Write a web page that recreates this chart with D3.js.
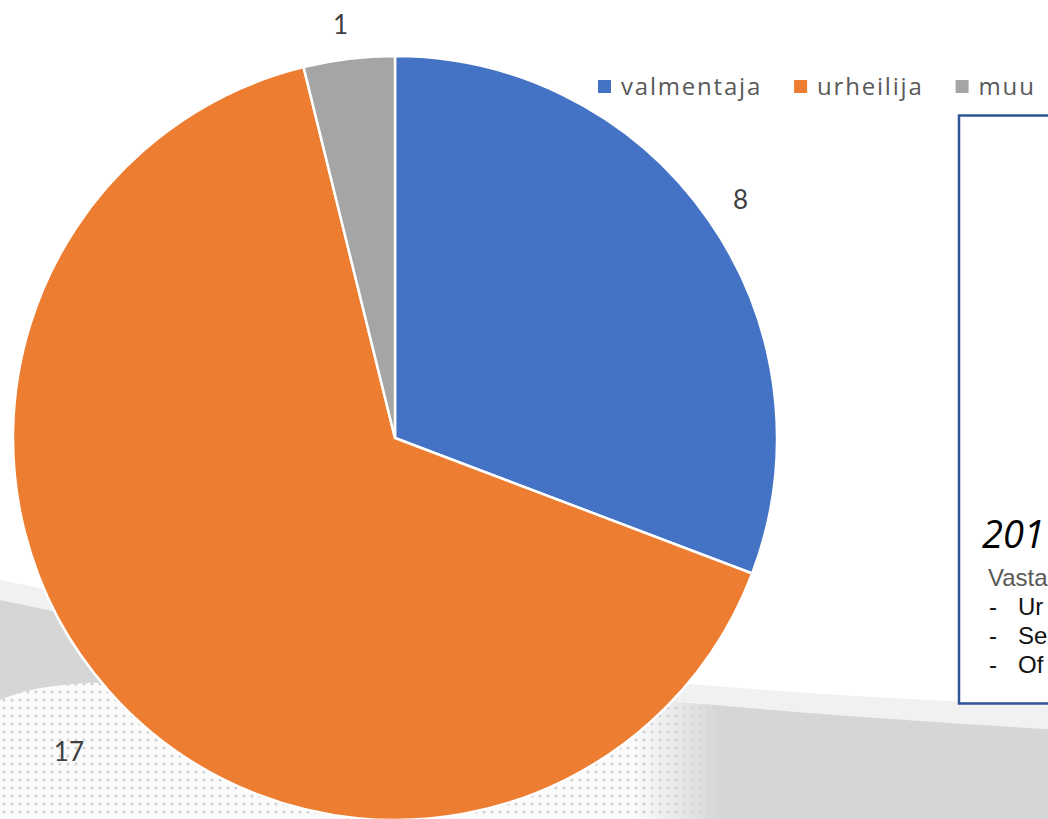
<!DOCTYPE html>
<html><head><meta charset="utf-8">
<script src="https://cdn.jsdelivr.net/npm/d3@7"></script>
<style>html,body{margin:0;padding:0;background:#fff;overflow:hidden}svg{display:block}</style>
</head><body>
<svg id="c" width="1048" height="819"></svg>
<script>
const categories = ["valmentaja", "urheilija", "muu"];
const values = [8, 17, 1];
const colors = ["#4472C4", "#ED7D31", "#A5A5A5"];
const boxLines = ["Vasta", "Ur", "Se", "Of"];
const boxTitle = "201";

const W = 1048, H = 819;
const svg = d3.select("#c");
const defs = svg.append("defs");

// ---- background decoration ----
const curve = d3.line().curve(d3.curveBasis);
function band(pts){ return curve(pts) + `L${W+10},${H+10}L-10,${H+10}Z`; }
svg.append("path").attr("d", band([[-10,578],[300,640],[700,690],[1060,706]])).attr("fill","#f1f1f1");
svg.append("path").attr("d", band([[-10,598],[300,662],[700,707],[1060,730]])).attr("fill","#d6d6d6");

const pat = defs.append("pattern").attr("id","dots").attr("patternUnits","userSpaceOnUse")
  .attr("width",8).attr("height",8);
pat.append("rect").attr("width",8).attr("height",8).attr("fill","#fbfbfb");
pat.append("circle").attr("cx",4).attr("cy",4).attr("r",1.6).attr("fill","#d2d2d2");
const grad = defs.append("linearGradient").attr("id","fade").attr("x1",0).attr("x2",1).attr("y1",0).attr("y2",0);
grad.append("stop").attr("offset","0").attr("stop-color","#fff").attr("stop-opacity",1);
grad.append("stop").attr("offset","0.88").attr("stop-color","#fff").attr("stop-opacity",1);
grad.append("stop").attr("offset","1").attr("stop-color","#fff").attr("stop-opacity",0);
const mask = defs.append("mask").attr("id","fm");
mask.append("rect").attr("x",0).attr("y",600).attr("width",720).attr("height",230).attr("fill","url(#fade)");
svg.append("path")
  .attr("d", curve([[-10,704],[60,676],[300,690],[690,700],[720,702]]) + `L720,${H+10}L-10,${H+10}Z`)
  .attr("fill","url(#dots)").attr("mask","url(#fm)");

// ---- right text box ----
const box = svg.append("g");
box.append("rect").attr("x",959).attr("y",115.5).attr("width",120).attr("height",588)
  .attr("fill","#fff").attr("stroke","#2F5597").attr("stroke-width",2.5);
box.append("text").attr("x",982).attr("y",548).text(boxTitle)
  .attr("font-family","Open Sans, sans-serif").attr("font-style","italic").attr("font-size",38).attr("fill","#000");
box.append("text").attr("x",988).attr("y",586).text(boxLines[0])
  .attr("font-family","Liberation Sans, Arial, sans-serif").attr("font-size",24).attr("fill","#595959");
boxLines.slice(1).forEach((t,i)=>{
  const y = 615 + i*29;
  box.append("text").attr("x",989).attr("y",y).text("-")
    .attr("font-family","Liberation Sans, Arial, sans-serif").attr("font-size",24).attr("fill","#111");
  box.append("text").attr("x",1018).attr("y",y).text(t)
    .attr("font-family","Liberation Sans, Arial, sans-serif").attr("font-size",24).attr("fill","#111");
});

// ---- pie ----
const cx = 395, cy = 438, r = 382;
const pie = d3.pie().sort(null).value(d => d.v);
const data = categories.map((c,i)=>({c, v: values[i], col: colors[i]}));
const arcs = pie(data);
const arc = d3.arc().innerRadius(0).outerRadius(r);
const g = svg.append("g").attr("transform",`translate(${cx},${cy})`);
g.selectAll("path").data(arcs).join("path")
  .attr("d", arc).attr("fill", d=>d.data.col)
  .attr("stroke","#fff").attr("stroke-width",2.5).attr("stroke-linejoin","round");

// labels: outside end
const labelR = {valmentaja: 420, urheilija: 452, muu: 418};
const labelAngleShift = {valmentaja: 0, urheilija: -0.04, muu: -0.01};
g.selectAll("text.lbl").data(arcs).join("text").attr("class","lbl")
  .attr("x", d => { const a=(d.startAngle+d.endAngle)/2 + labelAngleShift[d.data.c]; return Math.sin(a)*labelR[d.data.c]; })
  .attr("y", d => { const a=(d.startAngle+d.endAngle)/2 + labelAngleShift[d.data.c]; return -Math.cos(a)*labelR[d.data.c]; })
  .attr("text-anchor","middle").attr("dominant-baseline","central")
  .attr("font-family","Lato, Open Sans, sans-serif").attr("font-size",26).attr("fill","#404040")
  .text(d => d.data.v);

// ---- legend ----
const leg = svg.append("g");
let lx = 598;
data.forEach(d=>{
  leg.append("rect").attr("x",lx).attr("y",80).attr("width",13).attr("height",13).attr("fill",d.col);
  const t = leg.append("text").attr("x",lx+23).attr("y",95)
    .attr("font-family","Open Sans, sans-serif").attr("font-size",24).attr("letter-spacing",1.8)
    .attr("fill","#595959").text(d.c);
  lx += 23 + t.node().getComputedTextLength() + 32;
});
</script>
</body></html>
